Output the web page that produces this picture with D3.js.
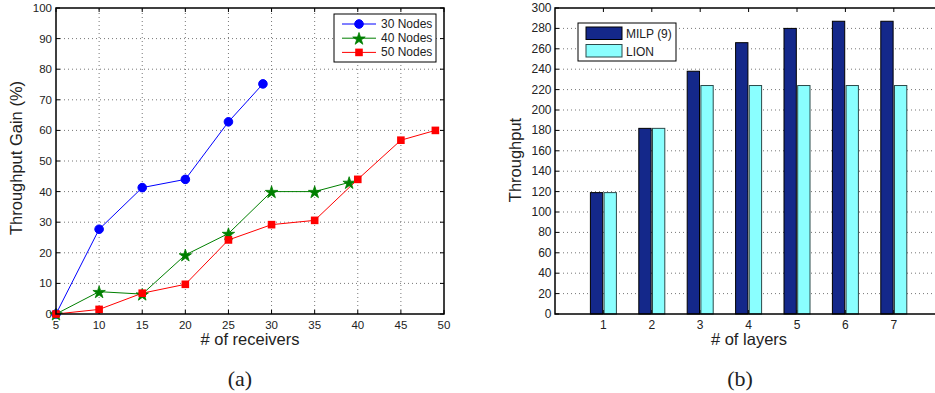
<!DOCTYPE html>
<html lang="en">
<head>
<meta charset="UTF-8">
<script src="https://d3js.org/d3.v7.min.js"></script>
<style>
  body { margin: 0; background: #fff; }
  text { font-family: "Liberation Sans", Arial, sans-serif; fill: #222; }
</style>
</head>
<body>
<div id="container"></div>
<script>
// ---- data, left panel (a) ----
const nodes30 = [[5, 0], [10, 27.7], [15, 41.3], [20, 44], [25, 62.8], [29, 75.2]];
const nodes40 = [[5, 0], [10, 7.3], [15, 6.5], [20, 19.3], [25, 26.3], [30, 40], [35, 40], [39, 43]];
const nodes50 = [[5, 0], [10, 1.5], [15, 6.8], [20, 9.7], [25, 24.2], [30, 29.2], [35, 30.6], [40, 44], [45, 56.8], [49, 60]];
const seriesNames = ['30 Nodes', '40 Nodes', '50 Nodes'];
const receiverTicks = [5, 10, 15, 20, 25, 30, 35, 40, 45, 50];
const gainTicks = [0, 10, 20, 30, 40, 50, 60, 70, 80, 90, 100];

// ---- data, right panel (b) ----
const layers = [1, 2, 3, 4, 5, 6, 7];
const milp = [119, 182, 238, 266, 280, 287, 287];
const lion = [119, 182, 224, 224, 224, 224, 224];
const barNames = ['MILP (9)', 'LION'];
const throughputTicks = d3.range(0, 301, 20);

const W = 935, H = 393;
const svg = d3.select('#container').append('svg')
    .attr('width', W).attr('height', H);

function boxTicks(g, x, y, xt, yt, x0, x1, y0, y1, tl) {
    // inward ticks on all four sides, matlab style
    xt.forEach(t => {
        g.append('line').attr('x1', x(t)).attr('x2', x(t)).attr('y1', y0).attr('y2', y0 - tl)
            .attr('stroke', '#000');
        g.append('line').attr('x1', x(t)).attr('x2', x(t)).attr('y1', y1).attr('y2', y1 + tl)
            .attr('stroke', '#000');
    });
    yt.forEach(t => {
        g.append('line').attr('x1', x0).attr('x2', x0 + tl).attr('y1', y(t)).attr('y2', y(t))
            .attr('stroke', '#000');
        g.append('line').attr('x1', x1).attr('x2', x1 - tl).attr('y1', y(t)).attr('y2', y(t))
            .attr('stroke', '#000');
    });
}

// ================= panel (a) =================
const ax = d3.scaleLinear().domain([5, 50]).range([56, 444]);
const ay = d3.scaleLinear().domain([0, 100]).range([314, 8]);
const ga = svg.append('g');

// grid
ga.append('g').selectAll('line.v').data(receiverTicks.slice(1, -1)).enter().append('line')
    .attr('x1', d => ax(d)).attr('x2', d => ax(d)).attr('y1', ay(0)).attr('y2', ay(100))
    .attr('stroke', '#777').attr('stroke-width', 1).attr('stroke-dasharray', '1,3');
ga.append('g').selectAll('line.h').data(gainTicks.slice(1, -1)).enter().append('line')
    .attr('x1', ax(5)).attr('x2', ax(50)).attr('y1', d => ay(d)).attr('y2', d => ay(d))
    .attr('stroke', '#777').attr('stroke-width', 1).attr('stroke-dasharray', '1,3');

boxTicks(ga, ax, ay, receiverTicks, gainTicks, ax(5), ax(50), ay(0), ay(100), 4);

// tick labels
ga.append('g').selectAll('text').data(receiverTicks).enter().append('text')
    .attr('x', d => ax(d)).attr('y', 329).attr('text-anchor', 'middle')
    .style('font-size', '11.5px').text(d => d);
ga.append('g').selectAll('text').data(gainTicks).enter().append('text')
    .attr('x', 52).attr('y', d => ay(d) + 4).attr('text-anchor', 'end')
    .style('font-size', '11.5px').text(d => d);

const line = d3.line().x(d => ax(d[0])).y(d => ay(d[1]));
const colors = ['#0000ff', '#007f00', '#ff0000'];
const allSeries = [nodes30, nodes40, nodes50];
const star = d3.symbol().type(d3.symbolStar).size(48);

function marker(g, i, cx, cy) {
    if (i === 0) {
        g.append('circle').attr('cx', cx).attr('cy', cy).attr('r', 4.3)
            .attr('fill', colors[0]).attr('stroke', colors[0]);
    } else if (i === 1) {
        g.append('path').attr('d', star).attr('transform', `translate(${cx},${cy + 0.8})`)
            .attr('fill', colors[1]).attr('stroke', colors[1]).attr('stroke-width', 0.8);
    } else {
        g.append('rect').attr('x', cx - 3.8).attr('y', cy - 3.8).attr('width', 7.6).attr('height', 7.6)
            .attr('fill', colors[2]);
    }
}

allSeries.forEach((s, i) => {
    ga.append('path').datum(s).attr('d', line).attr('fill', 'none')
        .attr('stroke', colors[i]).attr('stroke-width', 1);
});
allSeries.forEach((s, i) => {
    s.forEach(p => marker(ga, i, ax(p[0]), ay(p[1])));
});

// axis box
ga.append('rect').attr('x', ax(5)).attr('y', ay(100)).attr('width', ax(50) - ax(5)).attr('height', ay(0) - ay(100))
    .attr('fill', 'none').attr('stroke', '#000').attr('stroke-width', 1.5);

// legend
const la = ga.append('g');
la.append('rect').attr('x', 334).attr('y', 14).attr('width', 102).attr('height', 48)
    .attr('fill', '#fff').attr('stroke', '#000').attr('stroke-width', 1);
seriesNames.forEach((n, i) => {
    const yy = 24 + i * 14.2;
    la.append('line').attr('x1', 342).attr('x2', 376).attr('y1', yy).attr('y2', yy)
        .attr('stroke', colors[i]).attr('stroke-width', 1);
    marker(la, i, 359, yy);
    la.append('text').attr('x', 381).attr('y', yy + 4).style('font-size', '12px').text(n);
});

ga.append('text').attr('x', 250).attr('y', 345).attr('text-anchor', 'middle')
    .style('font-size', '16.5px').text('# of receivers');
ga.append('text').attr('transform', 'translate(22,158) rotate(-90)').attr('text-anchor', 'middle')
    .style('font-size', '16.5px').text('Throughput Gain (%)');
ga.append('text').attr('x', 240).attr('y', 386).attr('text-anchor', 'middle')
    .style('font-family', '"Liberation Serif", serif').style('font-size', '22px').text('(a)');

// ================= panel (b) =================
const bx = d3.scaleLinear().domain([0, 8]).range([555, 942.2]);
const by = d3.scaleLinear().domain([0, 300]).range([314, 8]);
const sub = d3.scaleBand().domain(barNames).range([-13, 13]).paddingInner(0.1);
const gb = svg.append('g');

gb.append('g').selectAll('line').data(throughputTicks.slice(1, -1)).enter().append('line')
    .attr('x1', bx(0)).attr('x2', bx(8)).attr('y1', d => by(d)).attr('y2', d => by(d))
    .attr('stroke', '#777').attr('stroke-width', 1).attr('stroke-dasharray', '1,3');

boxTicks(gb, bx, by, layers, throughputTicks, bx(0), bx(8), by(0), by(300), 4);

const barColors = ['#14288a', '#8affff'];
const barData = [];
layers.forEach((l, i) => {
    barData.push({ layer: l, key: barNames[0], v: milp[i] });
    barData.push({ layer: l, key: barNames[1], v: lion[i] });
});
gb.append('g').selectAll('rect').data(barData).enter().append('rect')
    .attr('x', d => bx(d.layer) + sub(d.key))
    .attr('width', sub.bandwidth())
    .attr('y', d => by(d.v))
    .attr('height', d => by(0) - by(d.v))
    .attr('fill', d => d.key === barNames[0] ? barColors[0] : barColors[1])
    .attr('stroke', d => d.key === barNames[0] ? '#000' : '#2b4a4a')
    .attr('stroke-width', 1);

gb.append('g').selectAll('text').data(layers).enter().append('text')
    .attr('x', d => bx(d)).attr('y', 328.5).attr('text-anchor', 'middle')
    .style('font-size', '12px').text(d => d);
gb.append('g').selectAll('text').data(throughputTicks).enter().append('text')
    .attr('x', 551.5).attr('y', d => by(d) + 4).attr('text-anchor', 'end')
    .style('font-size', '12px').text(d => d);

gb.append('rect').attr('x', bx(0)).attr('y', by(300)).attr('width', bx(8) - bx(0)).attr('height', by(0) - by(300))
    .attr('fill', 'none').attr('stroke', '#000').attr('stroke-width', 1.5);

const lb = gb.append('g');
lb.append('rect').attr('x', 578).attr('y', 23).attr('width', 98).attr('height', 38)
    .attr('fill', '#fff').attr('stroke', '#000').attr('stroke-width', 1);
barNames.forEach((n, i) => {
    const yy = 27 + i * 17.5;
    lb.append('rect').attr('x', 586).attr('y', yy).attr('width', 36).attr('height', 12.5)
        .attr('fill', barColors[i]).attr('stroke', i === 0 ? '#000' : '#2b4a4a');
    lb.append('text').attr('x', 626).attr('y', yy + 11).style('font-size', '12px').text(n);
});

gb.append('text').attr('x', 749).attr('y', 345).attr('text-anchor', 'middle')
    .style('font-size', '16.5px').text('# of layers');
gb.append('text').attr('transform', 'translate(521,160) rotate(-90)').attr('text-anchor', 'middle')
    .style('font-size', '16.5px').text('Throughput');
gb.append('text').attr('x', 740).attr('y', 386).attr('text-anchor', 'middle')
    .style('font-family', '"Liberation Serif", serif').style('font-size', '22px').text('(b)');
</script>
</body>
</html>
